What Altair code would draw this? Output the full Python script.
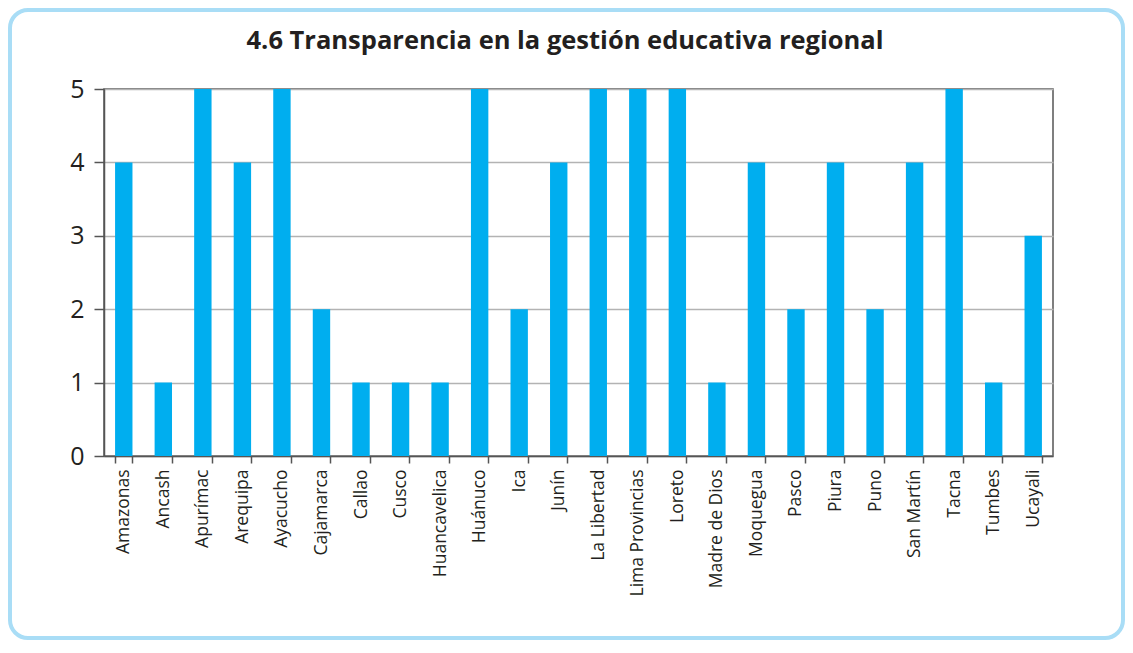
import altair as alt
import pandas as pd

regions = ["Amazonas", "Ancash", "Apurímac", "Arequipa", "Ayacucho", "Cajamarca",
           "Callao", "Cusco", "Huancavelica", "Huánuco", "Ica", "Junín",
           "La Libertad", "Lima Provincias", "Loreto", "Madre de Dios", "Moquegua",
           "Pasco", "Piura", "Puno", "San Martín", "Tacna", "Tumbes", "Ucayali"]
values = [4, 1, 5, 4, 5, 2, 1, 1, 1, 5, 2, 4, 5, 5, 5, 1, 4, 2, 4, 2, 4, 5, 1, 3]
title_text = "4.6 Transparencia en la gestión educativa regional"

df = pd.DataFrame({"region": regions, "valor": values})

FONT = "Open Sans"
W, H = 949, 367

bars = alt.Chart(df).mark_bar(color="#00AEEF").encode(
    x=alt.X("region:N", sort=regions, title=None,
            scale=alt.Scale(paddingInner=0.56, paddingOuter=0.28),
            axis=alt.Axis(labelAngle=-90, labelFontSize=17.5, labelFont=FONT,
                          labelColor="#231F20", labelPadding=6, tickBand="extent",
                          tickSize=7, tickColor="#555555", tickWidth=1.5,
                          domainColor="#555555", domainWidth=1.5,
                          labelAlign="right", labelBaseline="middle")),
    y=alt.Y("valor:Q", title=None,
            scale=alt.Scale(domain=[0, 5], nice=False),
            axis=alt.Axis(values=[0, 1, 2, 3, 4, 5], labelFontSize=25, labelFont=FONT,
                          labelColor="#231F20", labelPadding=10, tickSize=10,
                          tickColor="#555555", tickWidth=1.5, domainColor="#555555",
                          domainWidth=1.5, grid=True, gridColor="#B3B3B3",
                          gridWidth=1.5)),
)

title = alt.Chart(pd.DataFrame({"t": [title_text]})).mark_text(
    font=FONT, fontSize=25.5, fontWeight="bold", color="#231F20",
    align="center", baseline="middle"
).encode(
    text="t:N", x=alt.value(461), y=alt.value(-48)
)

frame = alt.Chart(pd.DataFrame({"a": [0]})).mark_rect(
    fill=None, stroke="#A9DDF6", strokeWidth=4, cornerRadius=18
).encode(
    x=alt.value(-94), x2=alt.value(1019),
    y=alt.value(-79), y2=alt.value(549),
)

chart = alt.layer(bars, title, frame).properties(
    width=W, height=H,
    autosize=alt.AutoSizeParams(type="none"),
    padding={"left": 96, "top": 81, "right": 72, "bottom": 184},
).configure_view(
    stroke="#555555", strokeWidth=1.5
)

chart.save("out.html", embed_options={"renderer": "svg", "actions": False})
